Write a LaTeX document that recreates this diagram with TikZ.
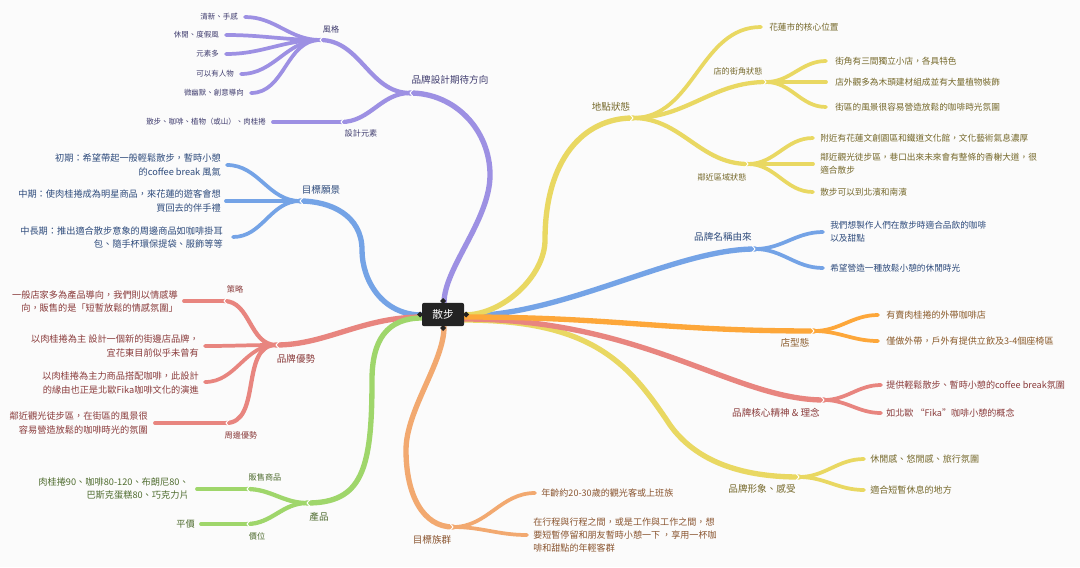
\documentclass[tikz,border=0pt]{standalone}
\usepackage{fontspec}
\setmainfont{Noto Sans CJK TC}
\usetikzlibrary{calc}
\definecolor{bgc}{HTML}{FBFBFB}
\definecolor{cPur}{HTML}{9D90E3}\definecolor{tPur}{HTML}{3F3C6E}
\definecolor{cBlu}{HTML}{74A3E6}\definecolor{tBlu}{HTML}{2E4B7C}
\definecolor{cRed}{HTML}{E8857F}\definecolor{tRed}{HTML}{8A3B3B}
\definecolor{cGrn}{HTML}{9FD66B}\definecolor{tGrn}{HTML}{4E6B2E}
\definecolor{cOrL}{HTML}{F2A970}\definecolor{tOrL}{HTML}{8A5530}
\definecolor{cYel}{HTML}{E9D862}\definecolor{tYel}{HTML}{75682A}
\definecolor{cOrg}{HTML}{FDA73A}\definecolor{tOrg}{HTML}{8A5A2A}
\definecolor{cBox}{HTML}{232323}
\newcommand\fMain{\fontsize{7.2pt}{9pt}\selectfont}
\newcommand\fSub{\fontsize{6.1pt}{8pt}\selectfont}
\newcommand\fTiny{\fontsize{5.6pt}{7pt}\selectfont}
\newcommand\fLeafL{\fontsize{6.9pt}{9.8pt}\selectfont}
\newcommand\fLeafR{\fontsize{6.5pt}{10pt}\selectfont}
\newcommand\fLeafM{\fontsize{6.8pt}{9.8pt}\selectfont}
\newcommand\fCenter{\fontsize{8pt}{9pt}\selectfont}
\newcommand\chevL[1]{\draw[white,line width=0.7pt] ($(#1)+(3,-3.5)$) -- (#1) -- ($(#1)+(3,3.5)$);}
\newcommand\chevR[1]{\draw[white,line width=0.7pt] ($(#1)+(-3,-3.5)$) -- (#1) -- ($(#1)+(-3,3.5)$);}
\tikzset{
  lbl/.style={inner sep=0pt, font=\fMain},
  sublbl/.style={inner sep=0pt, font=\fSub},
  lt/.style={inner sep=0pt, anchor=east, align=right},
  rt/.style={inner sep=0pt, anchor=west, align=left},
  mainline/.style={line width=4pt, line cap=round},
  subline/.style={line width=3.2pt, line cap=round},
  leafline/.style={line width=2.8pt, line cap=round},
  toL/.style={out=180,in=0,looseness=1},
  toR/.style={out=0,in=180,looseness=1},
  centerbox/.style={fill=cBox, text=white, rounded corners=1.5pt, minimum width=31.5pt, minimum height=17.5pt, inner sep=0pt, font=\fCenter},
}
\begin{document}
\begin{tikzpicture}[x=0.75pt,y=-0.75pt]
\fill[bgc] (0,0) rectangle (1080,567);
\path[use as bounding box] (0,0) rectangle (1080,567);
% ---------- anchor points on the centre ----------
\coordinate (ctop) at (444,303);
\coordinate (cbot) at (444,327);
\coordinate (cleft) at (422,315);
\coordinate (cleftb) at (422,317);
\coordinate (cleftc) at (422,318);
\coordinate (cright) at (464,315);
\coordinate (crightb) at (464,316);
\coordinate (crightc) at (464,317);
\coordinate (crightd) at (464,319);
\coordinate (crighte) at (464,320);
% ---------- junctions ----------
\coordinate (p1) at (490,175);  \coordinate (pj) at (410,93);
\coordinate (b1) at (362,250);  \coordinate (bj) at (300,201);
\coordinate (rj) at (276,345);
\coordinate (g1) at (372,380);  \coordinate (gj) at (307,503);
\coordinate (o1) at (406,450);  \coordinate (oj) at (453,527);
\coordinate (y1) at (545,240);  \coordinate (yj) at (633,118);
\coordinate (nj) at (755,249);
\coordinate (sj) at (814,331);
\coordinate (kj) at (824,400);
\coordinate (f1) at (670,425);  \coordinate (fj) at (799,477);
\coordinate (pS1) at (320,40);  \coordinate (pS2) at (341,122);
\coordinate (rS1) at (224,301); \coordinate (rS2) at (226,423);
\coordinate (gS1) at (247,489); \coordinate (gS2) at (247,524);
\coordinate (yS1) at (766,82);  \coordinate (yS2) at (748,164);
% ---------- main branches ----------
\draw[mainline,cPur] (ctop) .. controls +(0,-35) and +(0,45) .. (p1) .. controls +(0,-45) and +(45,0) .. (pj);
\draw[mainline,cBlu] (cleft) .. controls +(-40,0) and +(0,30) .. (b1) .. controls +(0,-35) and +(30,0) .. (bj);
\draw[mainline,cRed] (cleftb) .. controls +(-60,0) and +(50,0) .. (rj);
\draw[mainline,cGrn] (cleftc) .. controls +(-35,0) and +(0,-40) .. (g1) .. controls +(0,90) and +(55,0) .. (gj);
\draw[mainline,cOrL] (cbot) .. controls +(0,35) and +(0,-40) .. (o1) .. controls +(0,45) and +(-30,0) .. (oj);
\draw[mainline,cYel] (crighte) .. controls +(130,0) and +(-40,-60) .. (f1) .. controls +(25,35) and +(-60,0) .. (fj);
\draw[mainline,cRed] (crightd) .. controls +(180,0) and +(-90,0) .. (kj);
\draw[mainline,cBlu] (crightb) .. controls +(100,0) and +(-80,0) .. (nj);
\draw[mainline,cYel] (cright) .. controls +(40,0) and +(0,35) .. (y1) .. controls +(0,-80) and +(-50,0) .. (yj);
\draw[mainline,cOrg] (crightc) .. controls +(150,0) and +(-150,0) .. (sj);
% ---------- 品牌設計期待方向 ----------
\node[lbl,text=tPur] (Lp) at (450,80) {品牌設計期待方向};
\node[sublbl,text=tPur] (Lp1) at (331,29) {風格};
\node[sublbl,text=tPur] (Lp2) at (361,133) {設計元素};
\draw[subline,cPur] (pj) to[toL] (pS1);
\draw[subline,cPur] (pj) to[toL] (pS2);
\node[lt,text=tPur,font=\fTiny] (tp1) at (238,17) {清新、手感};
\node[lt,text=tPur,font=\fTiny] (tp2) at (219,35) {休閒、度假風};
\node[lt,text=tPur,font=\fTiny] (tp3) at (219,54) {元素多};
\node[lt,text=tPur,font=\fTiny] (tp4) at (234,74) {可以有人物};
\node[lt,text=tPur,font=\fTiny] (tp5) at (244,93) {微幽默、創意導向};
\node[lt,text=tPur,font=\fTiny] (tp6) at (266,122) {散步、咖啡、植物（或山）、肉桂捲};
\coordinate (ep1) at (245,17); \coordinate (ep2) at (226,35); \coordinate (ep3) at (226,54);
\coordinate (ep4) at (241,74); \coordinate (ep5) at (251,93); \coordinate (ep6) at (273,122);
\foreach \e in {ep1,ep2,ep3,ep4,ep5} {\draw[leafline,cPur] (pS1) to[toL] (\e);}
\draw[leafline,cPur] (pS2) -- (ep6);
% ---------- 目標願景 ----------
\node[lbl,text=tBlu] (Lb) at (321,190) {目標願景};
\node[lt,text=tBlu,font=\fLeafL] (tb1) at (221,165) {初期：希望帶起一般輕鬆散步，暫時小憩\\的coffee break 風氣};
\node[lt,text=tBlu,font=\fLeafL] (tb2) at (221,201) {中期：使肉桂捲成為明星商品，來花蓮的遊客會想\\買回去的伴手禮};
\node[lt,text=tBlu,font=\fLeafL] (tb3) at (223,237) {中長期：推出適合散步意象的周邊商品如咖啡掛耳\\包、隨手杯環保提袋、服飾等等};
\coordinate (eb1) at (227,165); \coordinate (eb2) at (226,201); \coordinate (eb3) at (233,237);
\foreach \e in {eb1,eb2,eb3} {\draw[leafline,cBlu] (bj) to[toL] (\e);}
% ---------- 品牌優勢 ----------
\node[lbl,text=tRed] (Lr) at (296,359) {品牌優勢};
\node[sublbl,text=tRed] (Lr1) at (235,289) {策略};
\node[sublbl,text=tRed] (Lr2) at (241,435) {周邊優勢};
\draw[subline,cRed] (rj) to[toL] (rS1);
\draw[subline,cRed] (rj) to[toL] (rS2);
\node[lt,text=tRed,font=\fLeafL] (tr1) at (178,301.5) {一般店家多為產品導向，我們則以情感導\\向，販售的是「短暫放鬆的情感氛圍」};
\node[lt,text=tRed,font=\fLeafL] (tr2) at (199,346) {以肉桂捲為主 設計一個新的街邊店品牌，\\宜花東目前似乎未曾有};
\node[lt,text=tRed,font=\fLeafL] (tr3) at (199,383) {以肉桂捲為主力商品搭配咖啡，此設計\\的緣由也正是北歐Fika咖啡文化的演進};
\node[lt,text=tRed,font=\fLeafL] (tr4) at (148,423) {鄰近觀光徒步區，在街區的風景很\\容易營造放鬆的咖啡時光的氛圍};
\coordinate (er1) at (184,301); \coordinate (er2) at (205,346); \coordinate (er3) at (205,382); \coordinate (er4) at (155,423);
\draw[leafline,cRed] (rS1) -- (er1);
\draw[leafline,cRed] (rj) to[toL] (er2);
\draw[leafline,cRed] (rj) to[toL] (er3);
\draw[leafline,cRed] (rS2) -- (er4);
% ---------- 產品 ----------
\node[lbl,text=tGrn] (Lg) at (319,517) {產品};
\node[sublbl,text=tGrn] (Lg1) at (265,477) {販售商品};
\node[sublbl,text=tGrn] (Lg2) at (257,536) {價位};
\draw[subline,cGrn] (gj) to[toL] (gS1);
\draw[subline,cGrn] (gj) to[toL] (gS2);
\node[lt,text=tGrn,font=\fLeafL] (tg1) at (189,489) {肉桂捲90、咖啡80-120、布朗尼80、\\巴斯克蛋糕80、巧克力片};
\node[lt,text=tGrn,font=\fLeafL] (tg2) at (195,524) {平價};
\coordinate (eg1) at (197,489); \coordinate (eg2) at (201,524);
\draw[leafline,cGrn] (gS1) -- (eg1);
\draw[leafline,cGrn] (gS2) -- (eg2);
% ---------- 目標族群 ----------
\node[lbl,text=tOrL] (Lo) at (432,540) {目標族群};
\node[rt,text=tOrL,font=\fLeafM] (to1) at (541,493) {年齡約20-30歲的觀光客或上班族};
\node[rt,text=tOrL,font=\fLeafM] (to2) at (533,535) {在行程與行程之間，或是工作與工作之間，想\\要短暫停留和朋友暫時小憩一下 ，享用一杯咖\\啡和甜點的年輕客群};
\coordinate (eo1) at (535,493); \coordinate (eo2) at (527,535);
\draw[leafline,cOrL] (oj) to[toR] (eo1);
\draw[leafline,cOrL] (oj) to[toR] (eo2);
% ---------- 地點狀態 ----------
\node[lbl,text=tYel] (Ly) at (611,107) {地點狀態};
\node[sublbl,text=tYel] (Ly1) at (738,71) {店的街角狀態};
\node[sublbl,text=tYel] (Ly2) at (722,177) {鄰近區域狀態};
\draw[subline,cYel] (yj) to[toR] (yS1);
\draw[subline,cYel] (yj) to[toR] (yS2);
\coordinate (ey0) at (761,27);
\draw[leafline,cYel] (yj) to[toR] (ey0);
\node[rt,text=tYel,font=\fLeafR] (ty0) at (769,27) {花蓮市的核心位置};
\node[rt,text=tYel,font=\fLeafR] (ty1) at (835,61) {街角有三間獨立小店，各具特色};
\node[rt,text=tYel,font=\fLeafR] (ty2) at (835,82) {店外觀多為木頭建材組成並有大量植物裝飾};
\node[rt,text=tYel,font=\fLeafR] (ty3) at (835,107) {街區的風景很容易營造放鬆的咖啡時光氛圍};
\node[rt,text=tYel,font=\fLeafR] (ty4) at (820,138) {附近有花蓮文創園區和鐵道文化館，文化藝術氣息濃厚};
\node[rt,text=tYel,font=\fLeafR] (ty5) at (820,164) {鄰近觀光徒步區，巷口出來未來會有整條的香榭大道，很\\適合散步};
\node[rt,text=tYel,font=\fLeafR] (ty6) at (820,192) {散步可以到北濱和南濱};
\coordinate (ey1) at (826,61); \coordinate (ey2) at (826,82); \coordinate (ey3) at (826,107);
\coordinate (ey4) at (813,138); \coordinate (ey5) at (813,164); \coordinate (ey6) at (813,192);
\foreach \e in {ey1,ey2,ey3} {\draw[leafline,cYel] (yS1) to[toR] (\e);}
\foreach \e in {ey4,ey5,ey6} {\draw[leafline,cYel] (yS2) to[toR] (\e);}
% ---------- 品牌名稱由來 ----------
\node[lbl,text=tBlu] (Ln) at (723,237) {品牌名稱由來};
\node[rt,text=tBlu,font=\fLeafR] (tn1) at (830,232) {我們想製作人們在散步時適合品飲的咖啡\\以及甜點};
\node[rt,text=tBlu,font=\fLeafR] (tn2) at (830,268) {希望營造一種放鬆小憩的休閒時光};
\coordinate (en1) at (823,232); \coordinate (en2) at (823,268);
\draw[leafline,cBlu] (nj) to[toR] (en1);
\draw[leafline,cBlu] (nj) to[toR] (en2);
% ---------- 店型態 ----------
\node[lbl,text=tOrg] (Ls) at (795,343) {店型態};
\node[rt,text=tOrg,font=\fLeafM] (ts1) at (886,315) {有賣肉桂捲的外帶咖啡店};
\node[rt,text=tOrg,font=\fLeafM] (ts2) at (886,341) {僅做外帶，戶外有提供立飲及3-4個座椅區};
\coordinate (es1) at (878,315); \coordinate (es2) at (878,341);
\draw[leafline,cOrg] (sj) to[toR] (es1);
\draw[leafline,cOrg] (sj) to[toR] (es2);
% ---------- 品牌核心精神 & 理念 ----------
\node[lbl,text=tRed] (Lk) at (776,413) {品牌核心精神 \& 理念};
\node[rt,text=tRed,font=\fLeafM] (tk1) at (886,385) {提供輕鬆散步、暫時小憩的coffee break氛圍};
\node[rt,text=tRed,font=\fLeafM] (tk2) at (886,413) {如北歐 “Fika”咖啡小憩的概念};
\coordinate (ek1) at (881,385); \coordinate (ek2) at (881,413);
\draw[leafline,cRed] (kj) to[toR] (ek1);
\draw[leafline,cRed] (kj) to[toR] (ek2);
% ---------- 品牌形象、感受 ----------
\node[lbl,text=tYel] (Lf) at (762,489) {品牌形象、感受};
\node[rt,text=tYel,font=\fLeafM] (tf1) at (870,459) {休閒感、悠閒感、旅行氛圍};
\node[rt,text=tYel,font=\fLeafM] (tf2) at (870,490) {適合短暫休息的地方};
\coordinate (ef1) at (864,459); \coordinate (ef2) at (864,490);
\draw[leafline,cYel] (fj) to[toR] (ef1);
\draw[leafline,cYel] (fj) to[toR] (ef2);
% ---------- junction notches ----------
\foreach \j in {pj,bj,rj,gj,pS1,pS2,rS1,rS2,gS1,gS2} {\chevL{\j}}
\foreach \j in {oj,yj,nj,sj,kj,fj,yS1,yS2} {\chevR{\j}}
% ---------- centre ----------
\node[centerbox] (c) at (443,314.5) {散步};
\foreach \p in {(420,314.5),(466,314.5),(443,301),(443,328)} {
  \fill[cBox] \p +(-3,0) -- +(0,-3) -- +(3,0) -- +(0,3) -- cycle;
}
\end{tikzpicture}
\end{document}
